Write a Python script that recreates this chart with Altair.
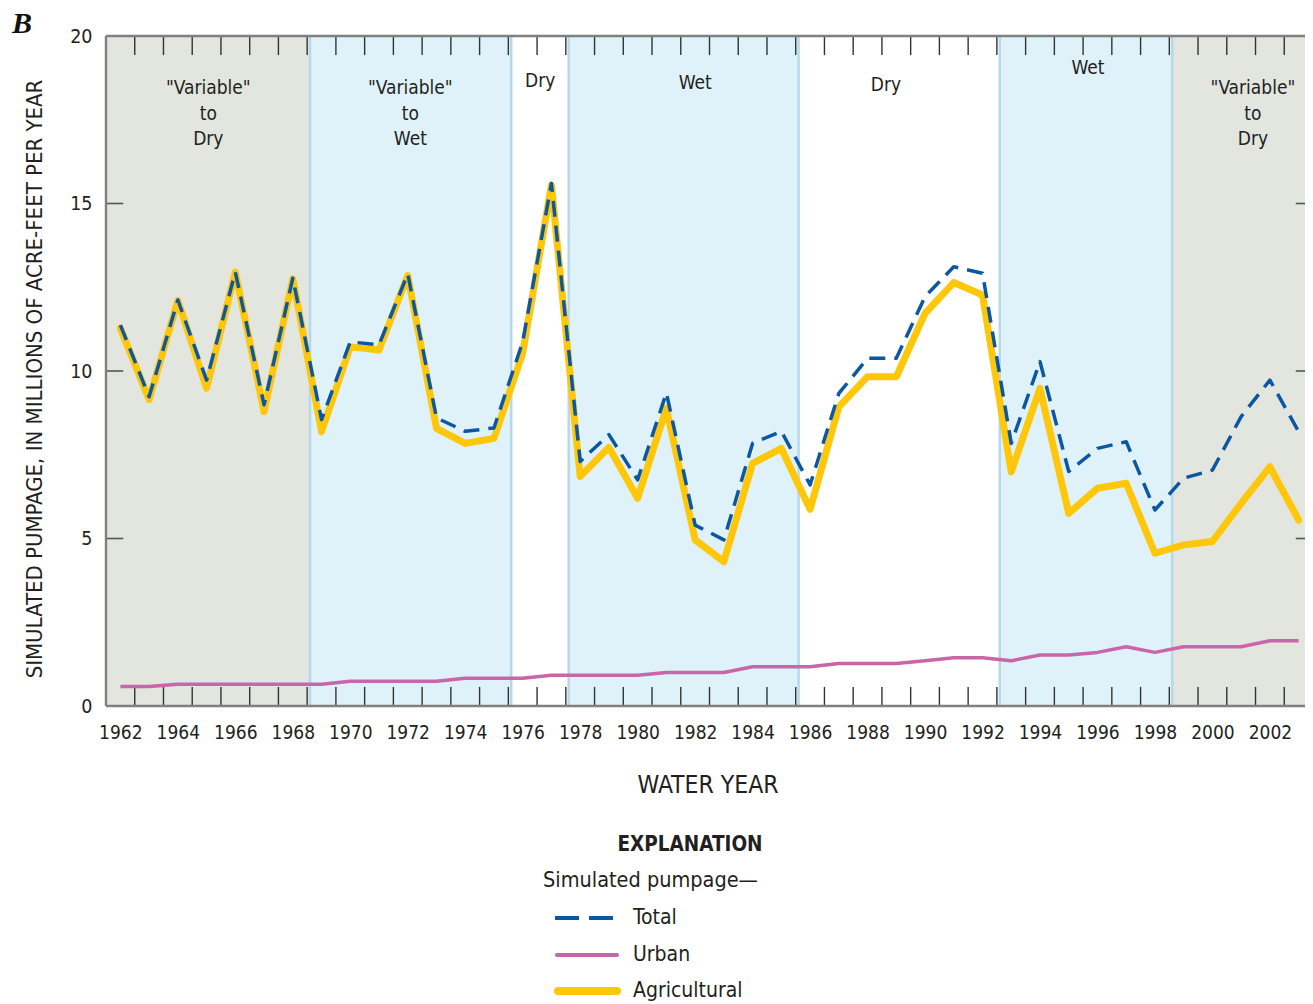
import altair as alt
import pandas as pd

FONT = "Liberation Sans Narrow, Arial Narrow, DejaVu Sans Condensed, sans-serif"
TXT = "#231f20"

years = list(range(1962, 2004))
total = [11.37, 9.23, 12.12, 9.73, 12.95, 8.99, 12.77, 8.55, 10.87, 10.78,
         12.9, 8.6, 8.2, 8.3, 10.87, 15.6, 7.3, 8.1, 6.75, 9.35,
         5.4, 4.96, 7.84, 8.2, 6.6, 9.33, 10.38, 10.38, 12.22, 13.11,
         12.92, 7.84, 10.28, 7.0, 7.69, 7.89, 5.85, 6.8, 7.04, 8.64,
         9.73, 8.19]
agricultural = [11.28, 9.15, 12.1, 9.49, 12.95, 8.79, 12.75, 8.19, 10.72, 10.63,
                12.85, 8.29, 7.84, 7.99, 10.54, 15.55, 6.85, 7.72, 6.2, 8.89,
                4.96, 4.31, 7.24, 7.69, 5.87, 8.93, 9.83, 9.83, 11.72, 12.64,
                12.27, 6.99, 9.48, 5.75, 6.5, 6.65, 4.56, 4.81, 4.91, 6.05,
                7.14, 5.55]
urban = [0.58, 0.58, 0.65, 0.65, 0.65, 0.65, 0.65, 0.65, 0.74, 0.74,
         0.74, 0.74, 0.83, 0.83, 0.83, 0.92, 0.92, 0.92, 0.92, 1.0,
         1.0, 1.0, 1.17, 1.17, 1.17, 1.27, 1.27, 1.27, 1.35, 1.44,
         1.44, 1.35, 1.52, 1.52, 1.6, 1.77, 1.6, 1.77, 1.77, 1.77,
         1.95, 1.95]

band_start = [1961.5, 1968.6, 1975.6, 1977.6, 1985.6, 1992.6, 1998.6]
band_end = [1968.6, 1975.6, 1977.6, 1985.6, 1992.6, 1998.6, 2003.5]
band_kind = ["variable", "wet", "dry", "wet", "dry", "wet", "variable"]
band_edges = [1968.6, 1975.6, 1977.6, 1985.6, 1992.6, 1998.6]

label_text = ['"Variable"', "to", "Dry", '"Variable"', "to", "Wet", "Dry", "Wet", "Dry", "Wet",
              '"Variable"', "to", "Dry"]
label_x = [1965.06, 1965.06, 1965.06, 1972.09, 1972.09, 1972.09, 1976.61, 1982.0, 1988.64, 1995.67,
           2001.41, 2001.41, 2001.41]
label_y = [18.45, 17.68, 16.93, 18.45, 17.68, 16.93, 18.66, 18.6, 18.54, 19.04,
           18.45, 17.68, 16.93]

x_ticks_labels = list(range(1962, 2003, 2))
y_ticks_labels = [0, 5, 10, 15, 20]
minor_ticks = [y + 0.5 for y in range(1962, 2003)]
side_ticks = [5, 10, 15]

XMIN, XMAX = 1961.5, 2003.5
xs = alt.Scale(domain=[XMIN, XMAX], nice=False, zero=False)
ys = alt.Scale(domain=[0, 20], nice=False, zero=False)
XA = alt.Axis(values=x_ticks_labels, format="d", labelFontSize=19, labelFont=FONT, labelColor=TXT,
              ticks=False, tickSize=0, domain=False, grid=False, title=None, labelPadding=17,
              labelFlush=False, labelOverlap=False)
YA = alt.Axis(values=y_ticks_labels, labelFontSize=19.5, labelFont=FONT, labelColor=TXT,
              ticks=False, tickSize=0, domain=False, grid=False, title=None, labelPadding=14,
              labelFlush=False, labelOverlap=False)

series = pd.DataFrame({"year": years, "total": total, "ag": agricultural, "urban": urban})
bands = pd.DataFrame({"start": band_start, "end": band_end, "kind": band_kind})
edges = pd.DataFrame({"x": band_edges})
labels = pd.DataFrame({"t": label_text, "x": label_x, "y": label_y})
mticks = pd.DataFrame({"x": minor_ticks})
sticks = pd.DataFrame({"y": side_ticks})
one = pd.DataFrame({"a": [0]})


def X(field):
    return alt.X(field, scale=xs, axis=XA)


def Y(field):
    return alt.Y(field, scale=ys, axis=YA)


def XD(v):
    return alt.XDatum(v, scale=xs, axis=XA)


def YD(v):
    return alt.YDatum(v, scale=ys, axis=YA)


band_layer = alt.Chart(bands).mark_rect().encode(
    x=X("start:Q"), x2="end:Q",
    y=YD(0), y2=alt.datum(20),
    color=alt.Color("kind:N", scale=alt.Scale(domain=["variable", "wet", "dry"],
                                              range=["#e3e5df", "#dff2f9", "#ffffff"]), legend=None),
)

edge_layer = alt.Chart(edges).mark_rule(color="#b8d8ea", strokeWidth=2.5).encode(
    x=X("x:Q"), y=YD(0), y2=alt.datum(20))

label_layer = alt.Chart(labels).mark_text(font=FONT, fontSize=19, color=TXT).encode(
    x=X("x:Q"), y=Y("y:Q"), text="t:N")

bt = alt.Chart(mticks).mark_rule(color="#333333", strokeWidth=1.4).encode(
    x=X("x:Q"), y=YD(0), y2=alt.datum(0.57))
tt = alt.Chart(mticks).mark_rule(color="#333333", strokeWidth=1.4).encode(
    x=X("x:Q"), y=YD(20), y2=alt.datum(19.43))
lt = alt.Chart(sticks).mark_rule(color="#555555", strokeWidth=1.6).encode(
    y=Y("y:Q"), x=XD(XMIN), x2=alt.datum(XMIN + 0.6))
rt = alt.Chart(sticks).mark_rule(color="#555555", strokeWidth=1.6).encode(
    y=Y("y:Q"), x=XD(XMAX - 0.6), x2=alt.datum(XMAX))

frame_b = alt.Chart(one).mark_rule(color="#808080", strokeWidth=2.4).encode(
    x=XD(XMIN), x2=alt.datum(XMAX), y=YD(0))
frame_t = alt.Chart(one).mark_rule(color="#808080", strokeWidth=2.4).encode(
    x=XD(XMIN), x2=alt.datum(XMAX), y=YD(20))
frame_l = alt.Chart(one).mark_rule(color="#808080", strokeWidth=2.4).encode(
    x=XD(XMIN), y=YD(0), y2=alt.datum(20))

urban_line = alt.Chart(series).mark_line(color="#c965a9", strokeWidth=3.5, strokeJoin="round").encode(
    x=X("year:Q"), y=Y("urban:Q"))
ag_line = alt.Chart(series).mark_line(color="#ffc709", strokeWidth=7, strokeJoin="round",
                                      strokeCap="round").encode(
    x=X("year:Q"), y=Y("ag:Q"))
total_line = alt.Chart(series).mark_line(color="#0b57a4", strokeWidth=3.5, strokeDash=[16, 9],
                                         strokeJoin="round").encode(
    x=X("year:Q"), y=Y("total:Q"))


def txt(text, x, y, size, **kw):
    return alt.Chart(one).mark_text(text=text, font=FONT, fontSize=size,
                                    color=TXT, **kw).encode(x=alt.value(x), y=alt.value(y))


def lrule(x1, x2, y, **kw):
    return alt.Chart(one).mark_rule(**kw).encode(x=alt.value(x1), x2=alt.value(x2), y=alt.value(y))


b_label = alt.Chart(one).mark_text(text="B", font="Liberation Serif, DejaVu Serif, serif", fontSize=30,
                                   fontWeight="bold", fontStyle="italic", color="#111111",
                                   baseline="alphabetic").encode(
    x=alt.value(-84), y=alt.value(-3))

annotations = [
    b_label,
    txt("SIMULATED PUMPAGE, IN MILLIONS OF ACRE-FEET PER YEAR", -71, 343, 22, angle=270),
    txt("WATER YEAR", 602, 750, 24.5),
    txt("EXPLANATION", 584, 809, 20.5, fontWeight="bold"),
    txt("Simulated pumpage\u2014", 437, 845, 21.5, align="left"),
    lrule(449, 507, 882, color="#0b57a4", strokeWidth=4, strokeDash=[24, 10]),
    lrule(451, 511, 919, color="#c965a9", strokeWidth=4, strokeCap="round"),
    lrule(452, 511, 955, color="#ffc709", strokeWidth=8, strokeCap="round"),
    txt("Total", 527, 882, 21, align="left"),
    txt("Urban", 527, 919, 21, align="left"),
    txt("Agricultural", 527, 955, 21, align="left"),
]

chart = alt.layer(
    band_layer, edge_layer, label_layer, bt, tt, lt, rt,
    urban_line, ag_line, total_line, frame_b, frame_t, frame_l, *annotations
).properties(
    width=1207, height=670,
    padding={"left": 98, "top": 28, "right": -8, "bottom": 300},
    autosize=alt.AutoSizeParams(type="none"),
).configure_view(stroke=None)

chart.save("out.html", embed_options={"renderer": "svg", "actions": False})
